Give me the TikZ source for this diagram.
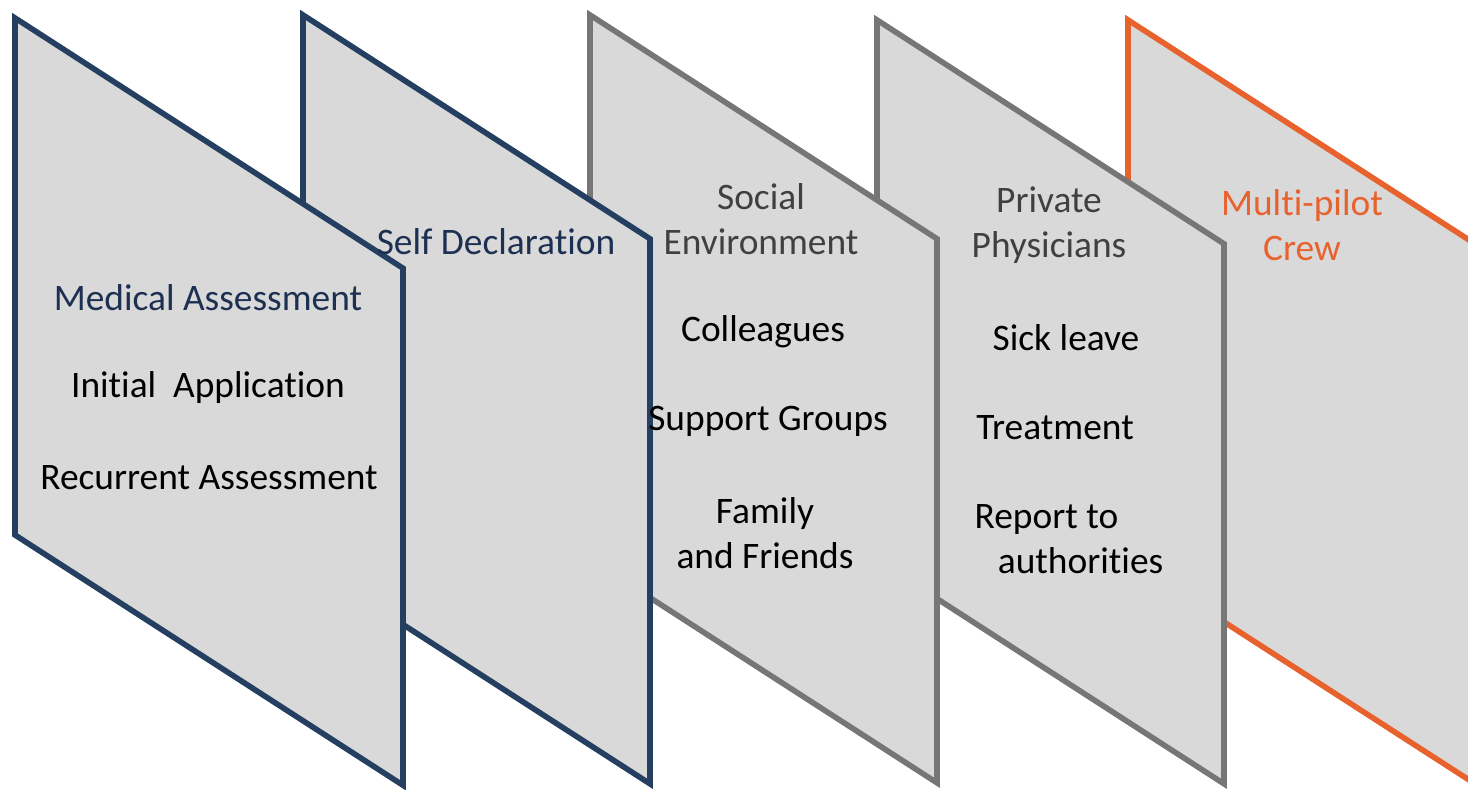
\documentclass[tikz,border=0pt]{standalone}
\usepackage{fontspec}
\setmainfont{Carlito}[Ligatures=NoCommon]
\usepackage{tikz}

\definecolor{navyline}{HTML}{243F60}
\definecolor{navytext}{HTML}{1D3052}
\definecolor{greyline}{HTML}{767676}
\definecolor{greytext}{HTML}{404040}
\definecolor{orangeline}{HTML}{E8622E}
\definecolor{panelfill}{HTML}{D9D9D9}

\begin{document}
\begin{tikzpicture}[x=0.5pt, y=-0.5pt,
    panel/.style={fill=panelfill, line width=2.8pt, line join=miter},
    label/.style={align=center, font=\fontsize{18.7}{22.5}\selectfont},
    item/.style={label, text=black}]
    \useasboundingbox (0,0) rectangle (1468,790);
    \clip (0,0) rectangle (1468,790);

    % 斜面板，从后往前画
    \foreach \x/\y/\w/\h/\c in {1128/20/347/540/orangeline,
                                877/20/347/540/greyline,
                                590/15/347/544/greyline,
                                303/15/347/545/navyline,
                                15/18/388/517/navyline}
        \draw[panel, draw=\c] (\x,\y) -- ++(\w,0.645*\w) -- ++(0,\h)
            -- ++(-\w,-0.645*\w) -- cycle;

    % 标题
    \node[label, text=navytext] (medical) at (208,298) {Medical Assessment};
    \node[label, text=navytext] (selfdecl) at (496,242) {Self Declaration};
    \node[label, text=greytext] (social) at (761,219) {Social\\Environment};
    \node[label, text=greytext] (private) at (1049,225) {Private\\Physicians};
    \node[label, text=orangeline] (crew) at (1302,225) {Multi-pilot\\Crew};

    % 各项内容
    \node[item] (initial) at (208,388) {Initial~ Application};
    \node[item] (recurrent) at (209,478) {Recurrent Assessment};
    \node[item] (colleagues) at (763,332) {Colleagues};
    \node[item] (support) at (768,421) {Support Groups};
    \node[item] (family) at (765,533) {Family\\and Friends};
    \node[item] (sick) at (1066,338) {Sick leave};
    \node[item] (treatment) at (1055,428) {Treatment};
    \node[item, align=left] (report) at (1069,539) {Report to\\\hspace*{0.62em}authorities};
\end{tikzpicture}
\end{document}
